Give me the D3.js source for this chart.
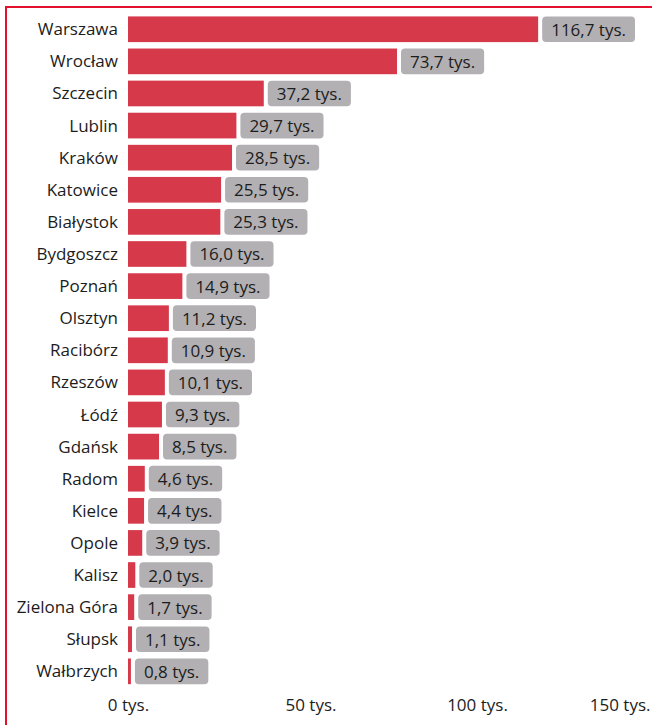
<!DOCTYPE html>
<html><head><meta charset="utf-8">
<script src="https://cdn.jsdelivr.net/npm/d3@7"></script>
<style>
html,body{margin:0;padding:0;background:#fff;}
svg{display:block;}
text{font-family:"Open Sans","Noto Sans",sans-serif;fill:#1c1c1c;}
</style></head>
<body>
<script>
const cities = ["Warszawa","Wrocław","Szczecin","Lublin","Kraków","Katowice","Białystok","Bydgoszcz","Poznań","Olsztyn","Racibórz","Rzeszów","Łódź","Gdańsk","Radom","Kielce","Opole","Kalisz","Zielona Góra","Słupsk","Wałbrzych"];
const values = [116.7,73.7,37.2,29.7,28.5,25.5,25.3,16.0,14.9,11.2,10.9,10.1,9.3,8.5,4.6,4.4,3.9,2.0,1.7,1.1,0.8];
const ticks = [0,50,100,150];
const unit = "tys.";

const W = 652, H = 725;
const fmt = v => d3.format(".1f")(v).replace(".", ",") + " " + unit;
const fmtTick = v => v + " " + unit;

const svg = d3.select("body").append("svg").attr("width", W).attr("height", H);

// frame lines
svg.append("line").attr("x1",6).attr("x2",6).attr("y1",6).attr("y2",H).attr("stroke","#e3112c").attr("stroke-width",2);
svg.append("line").attr("x1",5).attr("x2",W).attr("y1",7).attr("y2",7).attr("stroke","#e3112c").attr("stroke-width",2);

const x = d3.scaleLinear().domain([0,150]).range([128, 675.5]);
const y = d3.scaleBand().domain(cities).range([10, 690.6]).paddingInner(0.2).paddingOuter(0.2);

const fs = 17;
const gap = 4, pad = 9, rightPad = 17;

const g = svg.append("g");
const rows = g.selectAll("g.row").data(cities.map((c,i)=>({c, v: values[i]}))).join("g").attr("class","row");

// category labels
rows.append("text")
  .attr("x", 118)
  .attr("y", d => y(d.c) + y.bandwidth()/2 + 6)
  .attr("text-anchor","end")
  .style("font-size", fs+"px")
  .text(d => d.c);

// value label text
rows.append("text")
  .style("font-size", fs+"px")
  .text(d => fmt(d.v));

rows.each(function(d){
  const row = d3.select(this);
  const t = row.select("text:last-child");
  const tw = t.node().getComputedTextLength();
  const bw = tw + 2*pad;
  const maxEnd = W - rightPad - bw - gap;
  const end = Math.min(x(d.v), maxEnd);
  const yy = y(d.c), h = y.bandwidth();
  row.insert("rect","text")
    .attr("x", x(0)).attr("y", yy).attr("width", Math.max(0, end - x(0))).attr("height", h)
    .attr("fill","#d63a4a");
  row.insert("rect","text:last-child")
    .attr("x", end + gap).attr("y", yy).attr("width", bw).attr("height", h)
    .attr("rx", 4).attr("ry", 4)
    .attr("fill","#b2b0b3");
  t.attr("x", end + gap + pad).attr("y", yy + h/2 + 6.5);
});

// axis
const axis = d3.axisBottom(x).tickValues(ticks).tickFormat(fmtTick).tickSize(0).tickPadding(0);
const ag = svg.append("g").attr("transform","translate(0,699)").call(axis);
ag.select(".domain").remove();
ag.selectAll("text")
  .style("font-size", fs+"px")
  .style("font-family", '"Open Sans","Noto Sans",sans-serif')
  .attr("fill","#1c1c1c");
// keep labels inside the page
ag.selectAll(".tick text").each(function(d){
  const el = d3.select(this);
  const w = this.getComputedTextLength();
  const cx = x(d);
  if (cx + w/2 > W - 2) { el.attr("text-anchor","end").attr("x", (W - 2) - cx); }
  else if (d === 100) { el.attr("dx", -16); }
});
</script>
</body></html>
